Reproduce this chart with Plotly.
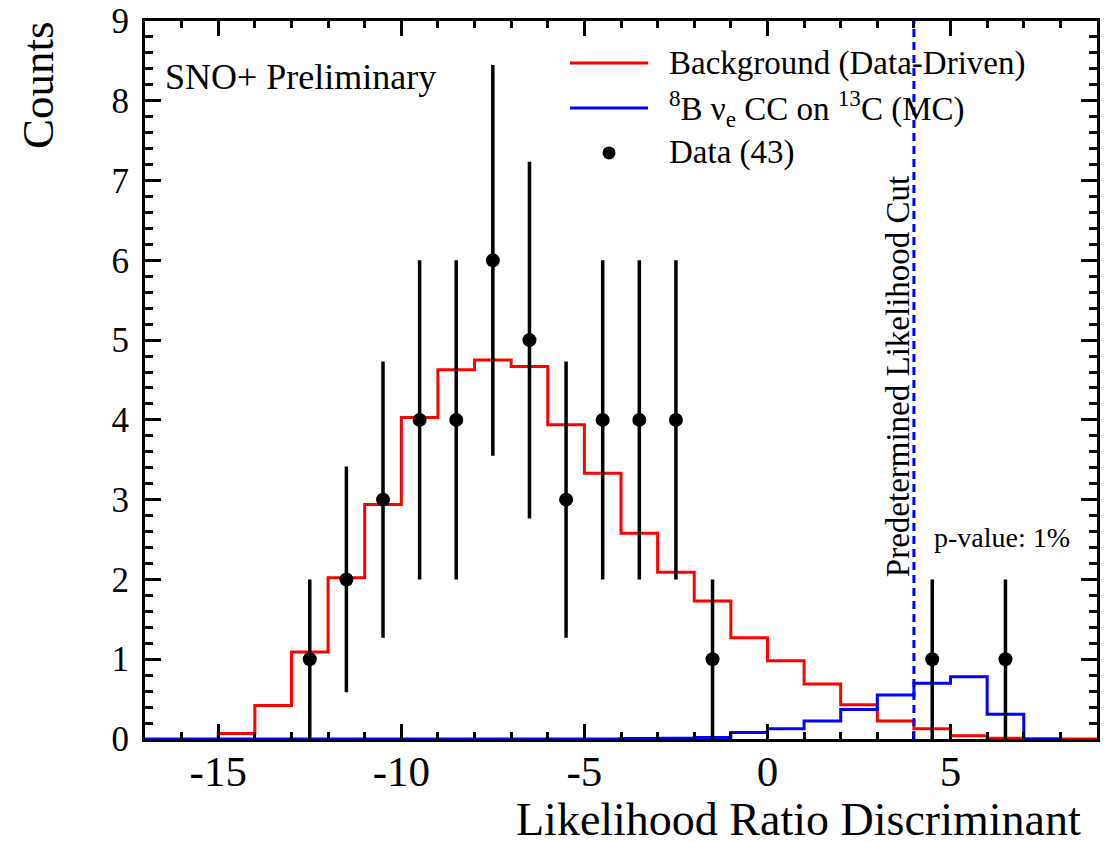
import numpy as np
import plotly.graph_objects as go

# ---------------- data ----------------
bg_edges = list(range(-15, 10))          # background histogram bin edges (24 bins)
bg_counts = [0.07, 0.42, 1.09, 2.02, 2.94, 4.03, 4.63, 4.75, 4.67, 3.94, 3.33, 2.58,
             2.09, 1.73, 1.27, 0.98, 0.69, 0.43, 0.225, 0.13, 0.04, 0.01, 0.0, 0.0]

sig_edges = list(range(-17, 9))          # 8B signal MC histogram bin edges (25 bins)
sig_counts = [0.0] * 13 + [0.005, 0.01, 0.02, 0.08, 0.13, 0.225, 0.37, 0.55,
                           0.70, 0.78, 0.31, 0.0]

data_x = [-12.5, -11.5, -10.5, -9.5, -8.5, -7.5, -6.5, -5.5, -4.5, -3.5, -2.5, -1.5, 4.5, 6.5]
data_n = [1, 2, 3, 4, 4, 6, 5, 3, 4, 4, 4, 1, 1, 1]

cut_value = 4
x_range = [-17, 9]
y_range = [0, 9]
x_tickvals = [-15, -10, -5, 0, 5]
x_ticktext = ["-15", "-10", "-5", "0", "5"]

FONT = "Liberation Serif"


def step_xy(edges, counts):
    xs = [edges[0]] + list(edges)
    ys = [0.0] + list(counts) + [counts[-1]]
    return xs, ys


fig = go.Figure()

bx, by = step_xy(bg_edges, bg_counts)
fig.add_trace(go.Scatter(x=bx, y=by, mode="lines", line_shape="hv",
                         line=dict(color="#ff0000", width=3),
                         name="Background (Data-Driven)", showlegend=False))

sx, sy = step_xy(sig_edges, sig_counts)
fig.add_trace(go.Scatter(x=sx, y=sy, mode="lines", line_shape="hv",
                         line=dict(color="#0000ff", width=3),
                         name="8B CC on 13C (MC)", showlegend=False))

fig.add_trace(go.Scatter(x=data_x, y=data_n, mode="markers",
                         marker=dict(color="black", size=14),
                         error_y=dict(type="data", array=list(np.sqrt(data_n)),
                                      visible=True, width=0, thickness=3.5, color="black"),
                         name="Data (43)", showlegend=False))

# cut line
fig.add_shape(type="line", xref="x", yref="paper", x0=cut_value, x1=cut_value, y0=0, y1=1,
              line=dict(color="#0000ff", width=3, dash="8px,5px"), layer="above")

# ---------- custom legend ----------
leg_x0, leg_x1 = 0.4464, 0.5284
leg_text_x = 0.5483
row_y = [0.9415, 0.8788, 0.8162]
fig.add_shape(type="line", xref="paper", yref="paper", x0=leg_x0, x1=leg_x1,
              y0=row_y[0], y1=row_y[0], line=dict(color="#ff0000", width=3))
fig.add_shape(type="line", xref="paper", yref="paper", x0=leg_x0, x1=leg_x1,
              y0=row_y[1], y1=row_y[1], line=dict(color="#0000ff", width=3))
fig.add_shape(type="circle", xref="paper", yref="paper", xsizemode="pixel", ysizemode="pixel",
              xanchor=(leg_x0 + leg_x1) / 2, yanchor=row_y[2], x0=-6.5, x1=6.5, y0=-6.5, y1=6.5,
              fillcolor="black", line=dict(color="black", width=0))
leg_labels = ["Background (Data-Driven)",
              "<sup>8</sup>B ν<sub>e</sub> CC on <sup>13</sup>C (MC)",
              "Data (43)"]
for yy, t in zip(row_y, leg_labels):
    fig.add_annotation(text=t, xref="paper", yref="paper", x=leg_text_x, y=yy,
                       xanchor="left", yanchor="middle", showarrow=False,
                       font=dict(family=FONT, size=33, color="black"))

# ---------- text ----------
fig.add_annotation(text="SNO+ Preliminary", xref="paper", yref="paper", x=0.0189, y=0.922,
                   xanchor="left", yanchor="middle", showarrow=False,
                   font=dict(family=FONT, size=36, color="black"))
fig.add_annotation(text="p-value: 1%", xref="paper", yref="paper", x=0.8267, y=0.280,
                   xanchor="left", yanchor="middle", showarrow=False,
                   font=dict(family=FONT, size=28, color="black"))
fig.add_annotation(text="Predetermined Likelihood Cut", xref="paper", yref="paper",
                   x=0.791, y=0.504, textangle=-90, xanchor="center", yanchor="middle",
                   showarrow=False, font=dict(family=FONT, size=33, color="black"))
fig.add_annotation(text="Counts", xref="paper", yref="paper", x=-0.1124, y=0.911,
                   textangle=-90, xanchor="center", yanchor="middle", showarrow=False,
                   font=dict(family=FONT, size=45, color="black"))
fig.add_annotation(text="Likelihood Ratio Discriminant", xref="paper", yref="paper",
                   x=0.9853, y=-0.1128, xanchor="right", yanchor="middle", showarrow=False,
                   font=dict(family=FONT, size=46, color="black"))

fig.update_layout(
    width=1111, height=834,
    margin=dict(l=137, r=22, t=13, b=103, autoexpand=False),
    paper_bgcolor="white", plot_bgcolor="white",
    showlegend=False,
    font=dict(family=FONT, color="black"),
)
fig.update_xaxes(range=x_range, tickvals=x_tickvals, ticktext=x_ticktext,
                 ticks="inside", ticklen=15, tickwidth=2.5, automargin=False,
                 tickcolor="black", showline=True, linewidth=3, linecolor="black",
                 mirror="allticks", showgrid=False, zeroline=False, ticklabeloverflow="allow",
                 tickfont=dict(family=FONT, size=43, color="black"), ticklabelstandoff=-8,
                 minor=dict(dtick=1, tick0=0, ticks="inside", ticklen=7, tickwidth=2.5,
                            tickcolor="black", showgrid=False))
fig.update_yaxes(range=y_range, dtick=1, tick0=0, ticks="inside", ticklen=16, tickwidth=2.5,
                 tickcolor="black", showline=True, linewidth=3, linecolor="black",
                 mirror="allticks", showgrid=False, zeroline=False, automargin=False,
                 ticklabeloverflow="allow",
                 tickfont=dict(family=FONT, size=35, color="black"), ticklabelstandoff=6,
                 minor=dict(dtick=0.2, ticks="inside", ticklen=8, tickwidth=2.5,
                            tickcolor="black", showgrid=False))

fig.write_html("out.html")
